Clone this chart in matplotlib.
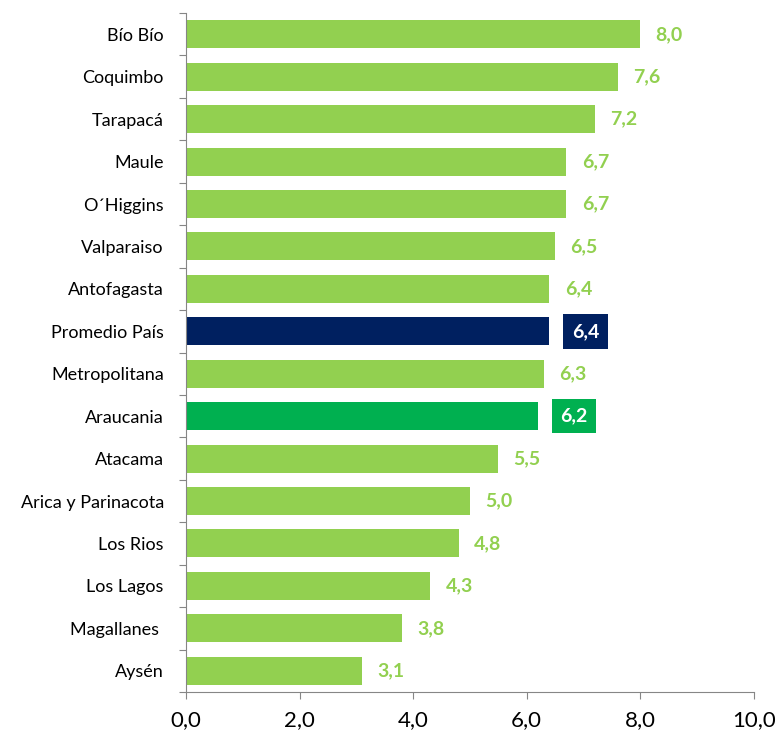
import matplotlib
matplotlib.use("Agg")
import matplotlib.pyplot as plt

regions = ["Bío Bío", "Coquimbo", "Tarapacá", "Maule", "O´Higgins", "Valparaiso",
           "Antofagasta", "Promedio País", "Metropolitana", "Araucania", "Atacama",
           "Arica y Parinacota", "Los Rios", "Los Lagos", "Magallanes ", "Aysén"]
values = [8.0, 7.6, 7.2, 6.7, 6.7, 6.5, 6.4, 6.4, 6.3, 6.2, 5.5, 5.0, 4.8, 4.3, 3.8, 3.1]

GREEN = "#92D050"
NAVY = "#002060"
DGREEN = "#00B050"
AXIS = "#868686"
special = {"Promedio País": NAVY, "Araucania": DGREEN}

plt.rcParams["font.family"] = ["Lato", "DejaVu Sans"]

fig = plt.figure(figsize=(7.8, 7.42), dpi=100)
ax = fig.add_axes([0.2385, 0.0674, 0.728, 0.915])

y = list(range(len(regions)))
colors = [special.get(r, GREEN) for r in regions]
ax.barh(y, values, height=0.66, color=colors, zorder=2)
ax.set_ylim(len(regions) - 0.5, -0.5)
ax.set_xlim(0, 10)

for yi, (r, v) in enumerate(zip(regions, values)):
    lab = f"{v:.1f}".replace(".", ",")
    if r in special:
        ax.annotate(lab, xy=(v, yi), xytext=(16, 0), textcoords="offset points",
                    ha="left", va="center", fontsize=14, fontweight="bold", color="white",
                    bbox=dict(boxstyle="square,pad=0.45", fc=special[r], ec="none"))
    else:
        ax.annotate(lab, xy=(v, yi), xytext=(11, 0), textcoords="offset points",
                    ha="left", va="center", fontsize=14, fontweight="bold", color=GREEN)

ax.set_yticks([i - 0.5 for i in range(len(regions) + 1)])
ax.set_yticklabels([])
ax.set_yticks(y, minor=True)
ax.set_yticklabels(regions, minor=True, fontsize=13)
ax.tick_params(axis="y", which="minor", length=0, pad=16)
ax.tick_params(axis="y", which="major", length=5, color=AXIS, direction="out")

ax.set_xticks([0, 2, 4, 6, 8, 10])
ax.set_xticklabels(["0,0", "2,0", "4,0", "6,0", "8,0", "10,0"], fontsize=16)
ax.tick_params(axis="x", length=5, color=AXIS, direction="out", pad=8)

for s in ["top", "right"]:
    ax.spines[s].set_visible(False)
for s in ["left", "bottom"]:
    ax.spines[s].set_color(AXIS)

fig.savefig("out.png", dpi=100, facecolor="white")
